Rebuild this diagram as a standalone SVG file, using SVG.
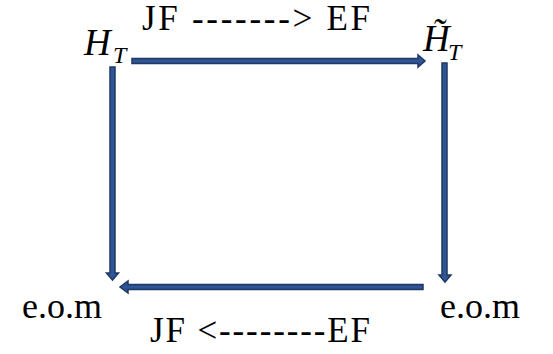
<svg xmlns="http://www.w3.org/2000/svg" width="553" height="354" viewBox="0 0 553 354">
<defs>
<style>
.arr{fill:#2F5597;stroke:#1F3864;stroke-width:1.5;stroke-linejoin:miter}
</style>
</defs>
<rect width="553" height="354" fill="#fff"/>
<g id="node-HT">
<text x="84" y="55" font-family="Liberation Serif" font-style="italic" font-size="37">H</text>
<text x="113" y="63" font-family="Liberation Serif" font-style="italic" font-size="24">T</text>
</g>
<g id="node-HT-tilde">
<text x="423" y="51" font-family="Liberation Serif" font-style="italic" font-size="37">H&#x303;</text>
<text x="448" y="60" font-family="Liberation Serif" font-style="italic" font-size="24">T</text>
</g>
<g id="node-eom-left">
<text x="22" y="318" font-family="Liberation Serif" font-size="36">e.o.m</text>
</g>
<g id="node-eom-right">
<text x="440" y="318" font-family="Liberation Serif" font-size="36">e.o.m</text>
</g>
<g id="connectors">
<path class="arr" d="M132,58.5 L418,58.5 L418,55 L425,61 L418,67 L418,63.5 L132,63.5 Z"/>
<path class="arr" d="M110,67 L110,273 L106.5,273 L112.5,280 L118.5,273 L115,273 L115,67 Z"/>
<path class="arr" d="M442,63 L442,275 L439,275 L445,282 L451,275 L447,275 L447,63 Z"/>
<path class="arr" d="M423,284.5 L128,284.5 L128,281 L120,287 L128,293 L128,289.5 L423,289.5 Z"/>
<text x="142" y="30" font-family="Liberation Serif" font-size="35" textLength="228" lengthAdjust="spacing">JF -------&gt; EF</text>
<text x="150" y="342" font-family="Liberation Serif" font-size="35" textLength="220" lengthAdjust="spacing">JF &lt;--------EF</text>
</g>
</svg>
